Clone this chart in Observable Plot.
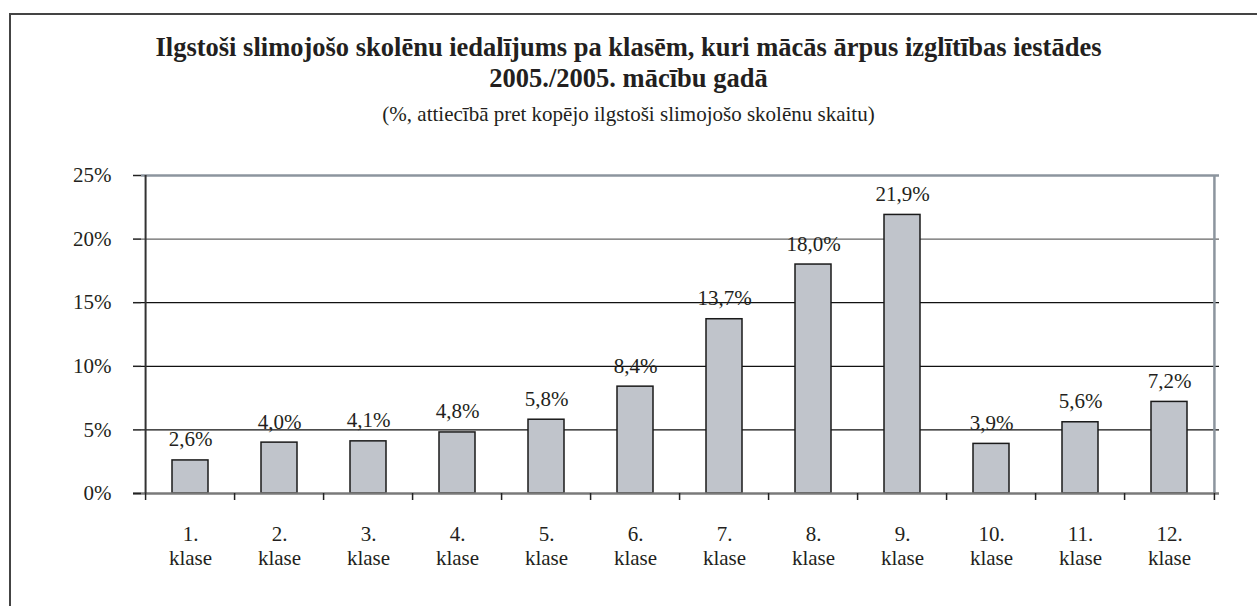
<!DOCTYPE html>
<html>
<head>
<meta charset="utf-8">
<script src="https://cdn.jsdelivr.net/npm/d3@7"></script>
<script src="https://cdn.jsdelivr.net/npm/@observablehq/plot@0.6"></script>
<style>
  body { margin: 0; background: white; }
  #wrap { position: relative; width: 1257px; height: 606px; overflow: hidden; background: white; font-family: 'Liberation Serif', serif; color: #231f20; }
  #frame { position: absolute; left: 9px; top: 13px; width: 1400px; height: 800px; border: 2px solid #444; box-sizing: border-box; }
  #title { position: absolute; left: 0; top: 32px; width: 1257px; text-align: center; font-family: 'Liberation Serif', serif; font-weight: bold; font-size: 26.5px; line-height: 31px; }
  #subtitle { position: absolute; left: 0; top: 102px; width: 1257px; text-align: center; font-family: 'Liberation Serif', serif; font-size: 21px; line-height: 24px; }
  #chart { position: absolute; left: 0; top: 0; }
  #chart svg text { font-family: 'Liberation Serif', serif; }
</style>
</head>
<body>
<div id="wrap">
  <div id="chart"></div>
  <div id="frame"></div>
  <div id="title">Ilgstoši slimojošo skolēnu iedalījums pa klasēm, kuri mācās ārpus izglītības iestādes<br>2005./2005. mācību gadā</div>
  <div id="subtitle">(%, attiecībā pret kopējo ilgstoši slimojošo skolēnu skaitu)</div>
</div>
<script>
const categories = ["1.", "2.", "3.", "4.", "5.", "6.", "7.", "8.", "9.", "10.", "11.", "12."];
const values = [2.6, 4.0, 4.1, 4.8, 5.8, 8.4, 13.7, 18.0, 21.9, 3.9, 5.6, 7.2];
const valueLabels = ["2,6%", "4,0%", "4,1%", "4,8%", "5,8%", "8,4%", "13,7%", "18,0%", "21,9%", "3,9%", "5,6%", "7,2%"];
const yTicks = [0, 5, 10, 15, 20, 25];
const yTickLabels = ["0%", "5%", "10%", "15%", "20%", "25%"];
const xSecondLine = "klase";

const data = categories.map((c, i) => ({cat: c, value: values[i], label: valueLabels[i]}));

const W = 1257, H = 606, ML = 141, MR = 38, MT = 175, MB = 113;
const step = (W - ML - MR) / categories.length;
const font = "'Liberation Serif', serif";
const ink = "#231f20";
const borderGrey = "#8c959e";

const chart = Plot.plot({
  width: W,
  height: H,
  marginLeft: ML,
  marginRight: MR,
  marginTop: MT,
  marginBottom: MB,
  style: {background: "transparent", fontFamily: font, color: ink, fontSize: "21px"},
  x: {domain: categories, paddingInner: 0.59, paddingOuter: 0.295, label: null},
  y: {domain: [0, 25], label: null},
  marks: [
    Plot.ruleY([5, 10, 15], {stroke: "#111", strokeWidth: 1.2}),
    Plot.ruleY([20], {stroke: "#666", strokeWidth: 1.4}),
    Plot.ruleY([25], {stroke: borderGrey, strokeWidth: 2.5}),
    Plot.ruleX([categories[categories.length - 1]], {dx: step / 2, y1: 0, y2: 25, stroke: borderGrey, strokeWidth: 2.5}),
    Plot.barY(data, {x: "cat", y: "value", fill: "#c0c4cb", stroke: "#1a1a1a", strokeWidth: 1.5}),
    Plot.ruleY([0], {stroke: "#7a7a7a", strokeWidth: 2.5, insetLeft: -8}),
    Plot.ruleX([categories[0]], {dx: -step / 2, y1: 0, y2: 25, stroke: "#333", strokeWidth: 2}),
    Plot.axisX({tickSize: 7, dx: -step / 2, tickFormat: () => "", stroke: "#222", strokeWidth: 1.5}),
    Plot.axisX({ticks: [categories[categories.length - 1]], tickSize: 7, dx: step / 2, tickFormat: () => "", stroke: "#222", strokeWidth: 1.5}),
    Plot.axisX({tickSize: 0, tickPadding: 30, tickFormat: d => d + "\n" + xSecondLine, fontSize: 21, lineHeight: 1.15, fill: ink, fontFamily: font}),
    Plot.axisY({ticks: yTicks, tickSize: 8, tickPadding: 22, tickFormat: d => yTickLabels[yTicks.indexOf(d)], fontSize: 21, fill: ink, stroke: "#222", strokeWidth: 1.5, fontFamily: font}),
    Plot.text(data, {x: "cat", y: "value", text: "label", dy: -14, lineAnchor: "bottom", fontSize: 21, fill: ink, fontFamily: font})
  ]
});
document.getElementById("chart").appendChild(chart);
</script>
</body>
</html>
